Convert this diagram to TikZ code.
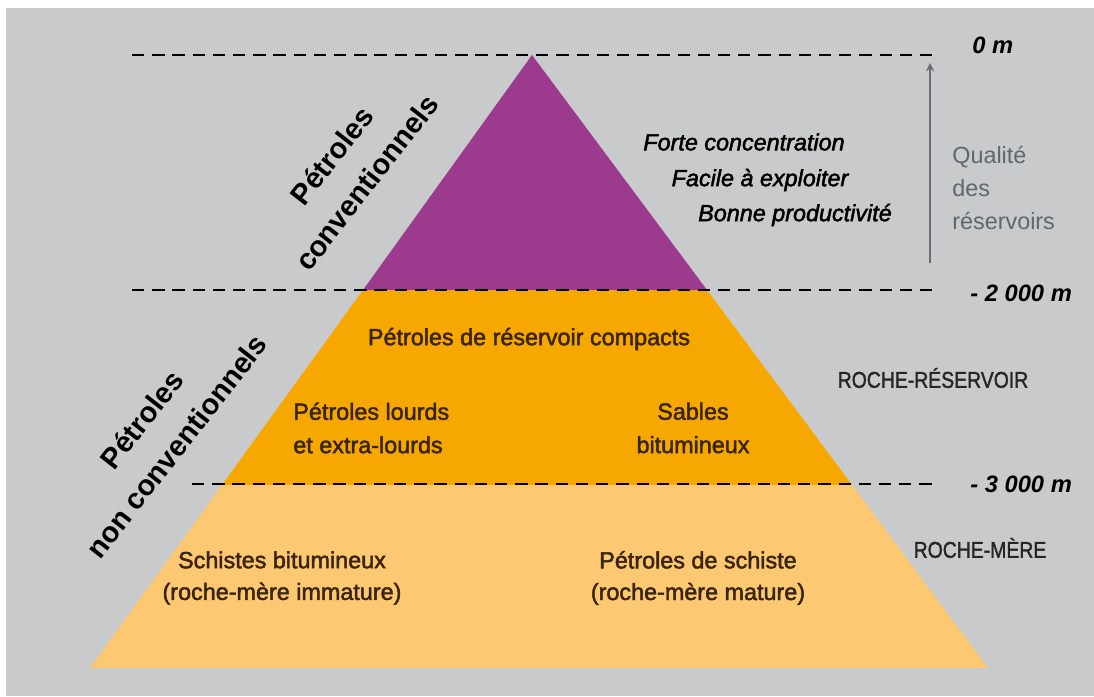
\documentclass[tikz,border=0pt]{standalone}
\usepackage{fontspec}
\setmainfont{Liberation Sans}
\newfontfamily\moyen{Liberation Sans}[FakeBold=2]
\newfontfamily\etroit{Liberation Sans}[FakeStretch=0.85, FakeBold=1.5]
\usepackage{tikz}

\definecolor{fondgris}{HTML}{C9CACC}
\definecolor{violetpetrole}{HTML}{9C3A8E}
\definecolor{orangefonce}{HTML}{F6A800}
\definecolor{orangeclair}{HTML}{FCC872}
\definecolor{textebrun}{HTML}{3A2412}
\definecolor{grisfleche}{HTML}{686B70}
\definecolor{grisqualite}{HTML}{5E6670}

\begin{document}
\begin{tikzpicture}[x=0.02cm, y=-0.02cm,
    every node/.style={inner sep=0pt, font=\fontsize{13.3}{19}\selectfont},
    couche/.style={text=textebrun, align=center, font=\fontsize{13.3}{19}\selectfont\moyen},
    avantage/.style={text=black, font=\fontsize{13.3}{16}\selectfont\moyen\itshape},
    profondeur/.style={anchor=west, font=\fontsize{13.5}{16}\selectfont\bfseries\itshape},
    roche/.style={text=black!85, font=\fontsize{13}{16}\selectfont\etroit},
    famille/.style={rotate=52, align=center, font=\fontsize{16.5}{25}\selectfont\bfseries},
    niveau/.style={dashed, dash pattern=on 7pt off 4.5pt, line width=0.9pt}]

        % Background and margins
        \useasboundingbox (0,0) rectangle (1094,696);
        \fill[fondgris] (6,8) rectangle (1094,696);

        % Pyramid layers, from the top
        \fill[violetpetrole] (532,55) -- (707,290) -- (363,290) -- cycle;
        \fill[orangefonce] (363,290) -- (707,290) -- (852,485) -- (222,485) -- cycle;
        \fill[orangeclair] (222,485) -- (852,485) -- (988,668) -- (90,668) -- cycle;

        % Depth levels
        \coordinate (n0g) at (132,55);   \coordinate (n0d) at (935,55);
        \coordinate (n1g) at (132,290);  \coordinate (n1d) at (935,290);
        \coordinate (n2g) at (192,484);  \coordinate (n2d) at (932,484);
        \draw[niveau] (n0g) -- (n0d);
        \draw[niveau] (n1g) -- (n1d);
        \draw[niveau] (n2g) -- (n2d);

        \node[profondeur] (p0) at (972,45) {0 m};
        \node[profondeur] (p1) at (970,293) {- 2 000 m};
        \node[profondeur] (p2) at (970,484) {- 3 000 m};

        % Reservoir quality arrow
        \coordinate (qbas) at (930,263);
        \coordinate (qhaut) at (930,63);
        \draw[grisfleche, line width=1.1pt, -stealth] (qbas) -- (qhaut);
        \node[text=grisqualite, align=left, anchor=west] (qual) at (952,188)
            {Qualité\\des\\réservoirs};

        % Conventional oils
        \node[avantage] (forte) at (744,142) {Forte concentration};
        \node[avantage] (facile) at (760,180) {Facile à exploiter};
        \node[avantage] (bonne) at (795,215) {Bonne productivité};
        \node[famille] (conv) at (349,169) {Pétroles\\conventionnels};

        % Reservoir rock
        \node[couche] (compacts) at (529,339) {Pétroles de réservoir compacts};
        \node[couche, align=left, anchor=west] (lourds) at (293,428) {Pétroles lourds\\et extra-lourds};
        \node[couche] (sables) at (693,428) {Sables\\bitumineux};
        \node[roche] (reservoir) at (933,378) {ROCHE-RÉSERVOIR};

        % Source rock
        \node[couche, font=\fontsize{13.3}{18}\selectfont\moyen] (schistes) at (282,578) {Schistes bitumineux\\(roche-mère immature)};
        \node[couche, font=\fontsize{13.3}{18}\selectfont\moyen] (schiste) at (698,578) {Pétroles de schiste\\(roche-mère mature)};
        \node[roche] (mere) at (980,548) {ROCHE-MÈRE};
        \node[famille] (nonconv) at (159,433) {Pétroles\\non conventionnels};

    \end{tikzpicture}
\end{document}
